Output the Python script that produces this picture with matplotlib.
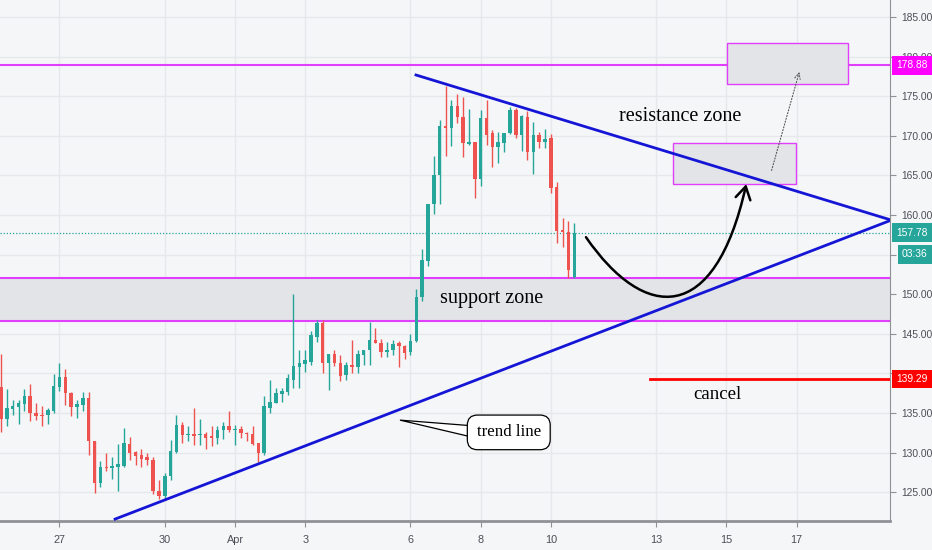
import matplotlib
matplotlib.use('Agg')
import matplotlib.pyplot as plt
import matplotlib.transforms as mtransforms
from matplotlib.path import Path
from matplotlib.patches import FancyArrowPatch, Rectangle, Polygon

# 4h candles, bar 0 = Mar 27 00:00 (6 bars per day)
bar_idx = list(range(-10, 89))
opens = [138.3, 134.3, 135.5, 135.8, 136.1, 137.1, 135.0, 134.8, 134.7, 135.2,
         138.3, 139.5, 137.5, 135.7, 136.0, 136.9, 131.4, 126.1, 128.2, 128.1,
         128.2, 128.3, 131.1, 130.1, 129.7, 129.4, 129.1, 125.2, 124.5, 127.0,
         130.1, 133.5, 132.2, 132.3, 132.2, 132.3, 132.1, 131.9, 132.8, 133.4,
         132.8, 133.0, 132.5, 132.4, 131.2, 129.9, 135.6, 136.3, 137.4, 137.7,
         139.2, 140.8, 141.2, 141.5, 144.6, 146.3, 141.3, 142.4, 141.3, 139.8,
         141.1, 140.8, 142.3, 142.9, 144.2, 143.9, 142.7, 142.9, 143.8, 143.4,
         142.7, 144.1, 149.7, 154.2, 161.4, 165.1, 171.3, 171.0, 173.8, 172.4,
         169.0, 169.2, 164.6, 172.3, 170.4, 168.6, 169.1, 170.3, 173.3, 170.1,
         172.4, 168.0, 170.1, 169.2, 169.7, 163.5, 158.1, 157.9, 152.2]
highs = [142.4, 138.0, 136.6, 136.6, 138.0, 138.7, 136.3, 135.9, 135.6, 139.9,
         141.3, 140.5, 137.6, 136.6, 137.6, 137.7, 131.5, 128.9, 129.9, 129.4,
         131.1, 133.1, 132.0, 130.2, 130.4, 129.9, 129.5, 126.5, 127.4, 131.6,
         134.7, 133.9, 133.4, 135.6, 134.2, 132.6, 133.4, 133.4, 133.8, 135.2,
         133.5, 133.4, 132.6, 133.4, 131.2, 137.1, 139.2, 138.1, 138.1, 139.9,
         150.0, 143.0, 143.0, 145.3, 146.8, 146.8, 142.4, 142.9, 142.3, 141.5,
         144.2, 143.0, 143.0, 146.5, 145.7, 144.4, 144.0, 144.2, 144.1, 143.6,
         145.0, 150.7, 155.7, 161.4, 167.4, 172.0, 176.3, 174.5, 175.3, 174.9,
         173.4, 169.2, 173.2, 174.5, 170.7, 170.5, 170.4, 173.6, 173.5, 172.6,
         173.1, 171.7, 170.5, 170.9, 170.2, 164.2, 159.6, 159.2, 159.0]
lows = [132.6, 133.4, 134.7, 133.6, 135.2, 134.0, 134.1, 133.3, 133.6, 135.0,
        137.8, 136.0, 134.6, 134.4, 135.2, 129.7, 124.9, 125.6, 127.7, 126.7,
        125.2, 128.2, 129.1, 128.4, 128.2, 128.4, 124.8, 124.2, 124.2, 126.6,
        129.9, 131.2, 131.4, 131.0, 131.0, 130.4, 130.8, 131.1, 131.7, 132.6,
        131.0, 131.8, 131.4, 131.0, 128.8, 129.7, 135.0, 136.2, 136.4, 137.3,
        138.1, 138.1, 140.2, 141.1, 144.0, 140.1, 137.9, 140.9, 139.0, 139.2,
        140.0, 140.1, 141.1, 141.1, 143.8, 142.1, 142.1, 142.3, 140.8, 141.8,
        142.3, 144.0, 149.2, 153.5, 160.1, 161.4, 167.5, 168.7, 171.6, 167.3,
        168.9, 162.2, 163.6, 168.8, 166.0, 166.6, 168.0, 170.2, 169.7, 168.1,
        167.0, 165.2, 168.4, 168.4, 162.8, 156.5, 155.9, 152.0, 152.0]
closes = [134.3, 135.6, 135.9, 136.3, 137.2, 135.0, 134.6, 134.6, 135.4, 138.4,
          139.5, 137.5, 135.8, 136.1, 136.9, 131.4, 126.1, 128.2, 128.0, 128.3,
          128.5, 131.2, 130.0, 129.6, 129.2, 129.0, 125.1, 124.5, 127.0, 130.2,
          133.5, 132.2, 132.3, 132.1, 132.3, 131.9, 131.9, 132.8, 133.4, 132.8,
          133.0, 132.5, 132.3, 131.1, 130.0, 135.9, 136.4, 137.5, 137.8, 139.4,
          140.9, 141.3, 141.7, 144.8, 146.3, 141.3, 142.4, 141.3, 139.7, 141.1,
          140.8, 142.4, 142.9, 144.2, 143.9, 142.7, 143.0, 143.7, 143.4, 142.6,
          144.1, 149.7, 154.3, 161.4, 165.1, 171.3, 171.0, 173.8, 172.4, 169.1,
          169.2, 164.6, 172.3, 170.1, 168.6, 169.2, 170.4, 173.2, 170.1, 172.5,
          168.0, 170.1, 169.2, 169.6, 163.4, 158.0, 157.9, 153.0, 157.78]

tick_pos = [0, 18, 30, 42, 60, 72, 84, 102, 114, 126]
tick_lbl = ['27', '30', 'Apr', '3', '6', '8', '10', '13', '15', '17']
price_ticks = [125, 130, 135, 140, 145, 150, 155, 160, 165, 170, 175, 180, 185]
hidden_ticks = [140, 155]  # sit under the price tags on the scale

resist_price = 178.88
support_lo, support_hi = 146.6, 152.05
last_price = 157.78
cancel_price = 139.29

bg = '#f5f6f8'
up_col = '#26a69a'
dn_col = '#ef5350'
magenta = '#e040fb'
zone_fill = '#e3e4e8'

fig = plt.figure(figsize=(9.32, 5.5), dpi=100, facecolor=bg)
ax = fig.add_axes([0, 29 / 550, 890 / 932, 521 / 550])
ax.set_facecolor(bg)
ax.set_xlim(-10.17, 141.97)
ax.set_ylim(121.36, 187.15)

# grid
for p in price_ticks:
    ax.axhline(p, color='#e6e8ec', lw=1, zorder=0)
for t in tick_pos:
    ax.axvline(t, color='#e6e8ec', lw=1, zorder=0)

# support zone band
ax.axhspan(support_lo, support_hi, color=zone_fill, zorder=0.5, lw=0)
ax.axhline(support_hi, color=magenta, lw=1.5, zorder=1)
ax.axhline(support_lo, color=magenta, lw=1.5, zorder=1)
ax.axhline(resist_price, color=magenta, lw=1.5, zorder=1)

# last price dotted line
ax.axhline(last_price, color=up_col, lw=0.9, ls=(0, (1, 1.5)), zorder=1)

# candles
for i, o, h, l, c in zip(bar_idx, opens, highs, lows, closes):
    col = up_col if c >= o else dn_col
    ax.vlines(i, l, h, color=col, lw=1, zorder=2)
    body = max(abs(c - o), 0.15)
    ax.bar(i, body, bottom=min(o, c), width=0.6, color=col, lw=0, zorder=3)

# boxes
ax.add_patch(Rectangle((104.9, 163.9), 21.0, 5.2, fc=zone_fill, ec=magenta, lw=1, zorder=1.5))
ax.add_patch(Rectangle((114.1, 176.55), 20.7, 5.2, fc=zone_fill, ec=magenta, lw=1, zorder=1.5))

# triangle lines
ax.plot([60.94, 142], [177.68, 159.4], color='#1515d6', lw=2, zorder=4)
ax.plot([9.5, 142], [121.6, 159.3], color='#1515d6', lw=2, zorder=4)

# cancel line
ax.plot([100.9, 142], [cancel_price, cancel_price], color='#ff0000', lw=2, zorder=4)

# curved arrow
curve = Path([(90, 157.2), (100, 146.5), (112, 146), (117.4, 163.9)],
             [Path.MOVETO, Path.CURVE4, Path.CURVE4, Path.CURVE4])
ax.add_patch(FancyArrowPatch(path=curve, arrowstyle='->,head_length=0.5,head_width=0.3',
                             mutation_scale=18, color='black', lw=1.8, zorder=6))

# dotted arrow to upper box
ax.annotate('', xy=(126.6, 178.4), xytext=(121.6, 165.3),
            arrowprops=dict(arrowstyle='->,head_length=0.4,head_width=0.2', color='#555555',
                            lw=0.8, ls=':', mutation_scale=10), zorder=6)

serif = 'Liberation Serif'
ax.text(106.1, 172.4, 'resistance zone', family=serif, fontsize=14.5, ha='center', va='center', zorder=7)
ax.text(73.8, 149.5, 'support zone', family=serif, fontsize=14.5, ha='center', va='center', zorder=7)
ax.text(112.4, 137.3, 'cancel', family=serif, fontsize=13.5, ha='center', va='center', zorder=7)

# trend line callout
ax.add_patch(Polygon([(58.2, 134.1), (72.0, 133.3), (72.0, 131.7)], closed=True,
                     fc='white', ec='black', lw=0.9, zorder=7))
ax.text(76.8, 132.55, 'trend line', family=serif, fontsize=12.2, ha='center', va='center', zorder=8,
        bbox=dict(boxstyle='round,pad=0.55,rounding_size=0.6', fc='white', ec='black', lw=0.9))

# axes styling
for s in ['top', 'left']:
    ax.spines[s].set_visible(False)
ax.spines['right'].set_color('#8f9198')
ax.spines['bottom'].set_color('#8f9198')
ax.spines['bottom'].set_linewidth(2)
ax.yaxis.tick_right()
ax.set_yticks(price_ticks)
ax.set_yticklabels(['' if p in hidden_ticks else f'{p:.2f}' for p in price_ticks])
ax.set_xticks(tick_pos)
ax.set_xticklabels(tick_lbl)
ax.tick_params(axis='y', length=4, color='#8f9198', labelsize=7.4, labelcolor='#4b4e57', pad=4)
ax.tick_params(axis='x', length=4, color='#8f9198', labelsize=7.8, labelcolor='#4b4e57', pad=6)
for lab in ax.get_xticklabels() + ax.get_yticklabels():
    lab.set_family('Liberation Sans')

# price tags on the scale
blend = mtransforms.blended_transform_factory(ax.transAxes, ax.transData)
tags = [(resist_price, '178.88', '#ff00ff'),
        (last_price, '157.78', up_col),
        (cancel_price, '139.29', '#ff0000')]
for p, txt, col in tags:
    ax.text(1.0067, p, txt, transform=blend, ha='left', va='center', color='white',
            fontsize=7.4, family='Liberation Sans', zorder=10,
            bbox=dict(boxstyle='square,pad=0.42', fc=col, ec='none'))
ax.text(1.0135, last_price - 2.75, '03:36', transform=blend, ha='left', va='center', color='white',
        fontsize=7.4, family='Liberation Sans', zorder=10,
        bbox=dict(boxstyle='square,pad=0.42', fc=up_col, ec='none'))

fig.savefig('out.png', dpi=100, facecolor=bg)
